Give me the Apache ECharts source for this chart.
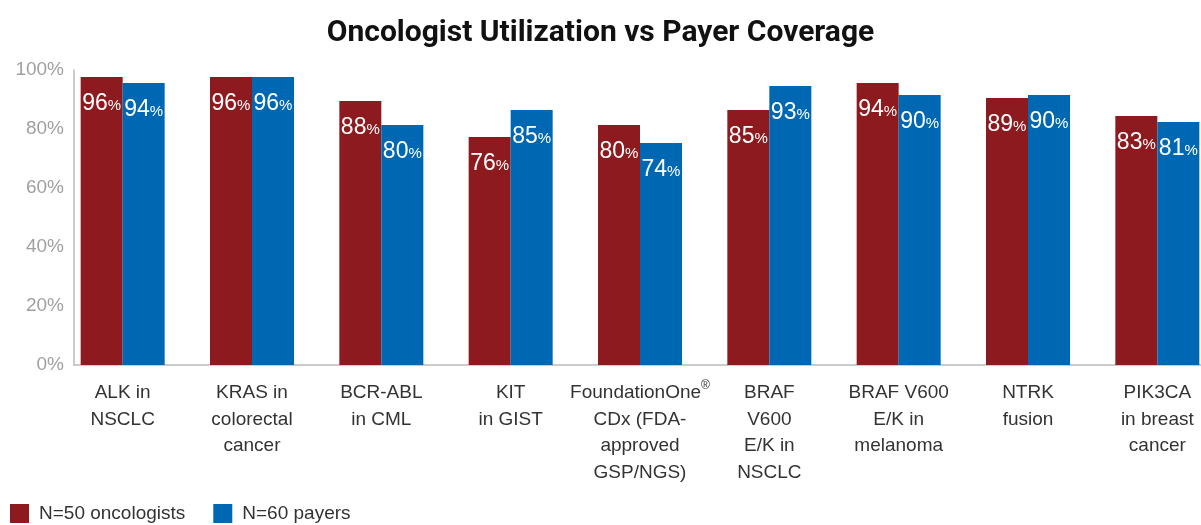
<!DOCTYPE html>
<html>
<head>
<meta charset="utf-8">
<script src="https://cdn.jsdelivr.net/npm/echarts@6/dist/echarts.min.js"></script>
<style>html,body{margin:0;padding:0;background:#fff}#c{width:1201px;height:525px}</style>
</head>
<body>
<div id="c"></div>
<script>
var categories = ["ALK in\nNSCLC", "KRAS in\ncolorectal\ncancer", "BCR-ABL\nin CML", "KIT\nin GIST", "FoundationOne{sup|®}\nCDx (FDA-\napproved\nGSP/NGS)", "BRAF\nV600\nE/K in\nNSCLC", "BRAF V600\nE/K in\nmelanoma", "NTRK\nfusion", "PIK3CA\nin breast\ncancer"];
var oncologists = [96, 96, 88, 76, 80, 85, 94, 89, 83];
var payers = [94, 96, 80, 85, 74, 93, 90, 90, 81];
var seriesNames = ["N=50 oncologists", "N=60 payers"];
var yTicks = [0, 20, 40, 60, 80, 100];

var RED = '#8C1A1E', BLUE = '#0068B2';
var chart = echarts.init(document.getElementById('c'));
var lbl = {
  show: true, position: 'insideTop', distance: 15,
  formatter: function (p) { return '{n|' + p.value + '}{p|%}'; },
  rich: {
    n: { color: '#fff', fontSize: 23, fontFamily: 'Liberation Sans' },
    p: { color: '#fff', fontSize: 15, fontFamily: 'Liberation Sans', padding: [5, 0, 0, 0] }
  }
};
chart.setOption({
  animation: false,
  title: {
    text: 'Oncologist Utilization vs Payer Coverage', left: 'center', top: 13,
    textStyle: { fontFamily: 'Roboto', fontWeight: 'bold', fontSize: 30, color: '#111' }
  },
  legend: {
    left: 5, top: 499, itemWidth: 19, itemHeight: 19, itemGap: 28, icon: 'rect',
    textStyle: { fontFamily: 'Liberation Sans', fontSize: 19, color: '#333', padding: [0, 0, 0, 5] },
    data: seriesNames
  },
  grid: [
    { left: 74, right: 0, top: 70, bottom: 160, outerBoundsMode: 'none' },
    { left: 58, width: 1164, top: 65, bottom: 160, outerBoundsMode: 'none' }
  ],
  xAxis: [
    { gridIndex: 0, type: 'value', min: 0, max: 1, axisLine: { show: true, lineStyle: { color: '#bbb', width: 1.5 } },
      axisTick: { show: false }, axisLabel: { show: false }, splitLine: { show: false } },
    { gridIndex: 1, type: 'category', data: categories, axisLine: { show: false }, axisTick: { show: false },
      axisLabel: { interval: 0, margin: 15, fontFamily: 'Liberation Sans', fontSize: 19, color: '#333', lineHeight: 26.5,
        rich: { sup: { fontSize: 12, fontFamily: 'Liberation Sans', color: '#333', verticalAlign: 'top', lineHeight: 14 } } } }
  ],
  yAxis: [
    { gridIndex: 0, type: 'value', min: yTicks[0], max: yTicks[yTicks.length - 1], interval: 20,
      axisLine: { show: true, lineStyle: { color: '#bbb', width: 1.5 } }, axisTick: { show: false },
      splitLine: { show: false },
      axisLabel: { margin: 10, formatter: '{value}%', fontFamily: 'Liberation Sans', fontSize: 19, color: '#a0a0a0' } },
    { gridIndex: 1, type: 'value', min: 0, max: 100, show: false }
  ],
  series: [
    { name: seriesNames[0], type: 'bar', xAxisIndex: 1, yAxisIndex: 1, data: oncologists, barWidth: 42, barGap: '0%',
      itemStyle: { color: RED }, label: lbl },
    { name: seriesNames[1], type: 'bar', xAxisIndex: 1, yAxisIndex: 1, data: payers, barWidth: 42, barGap: '0%',
      itemStyle: { color: BLUE }, label: lbl }
  ]
});
</script>
</body>
</html>
